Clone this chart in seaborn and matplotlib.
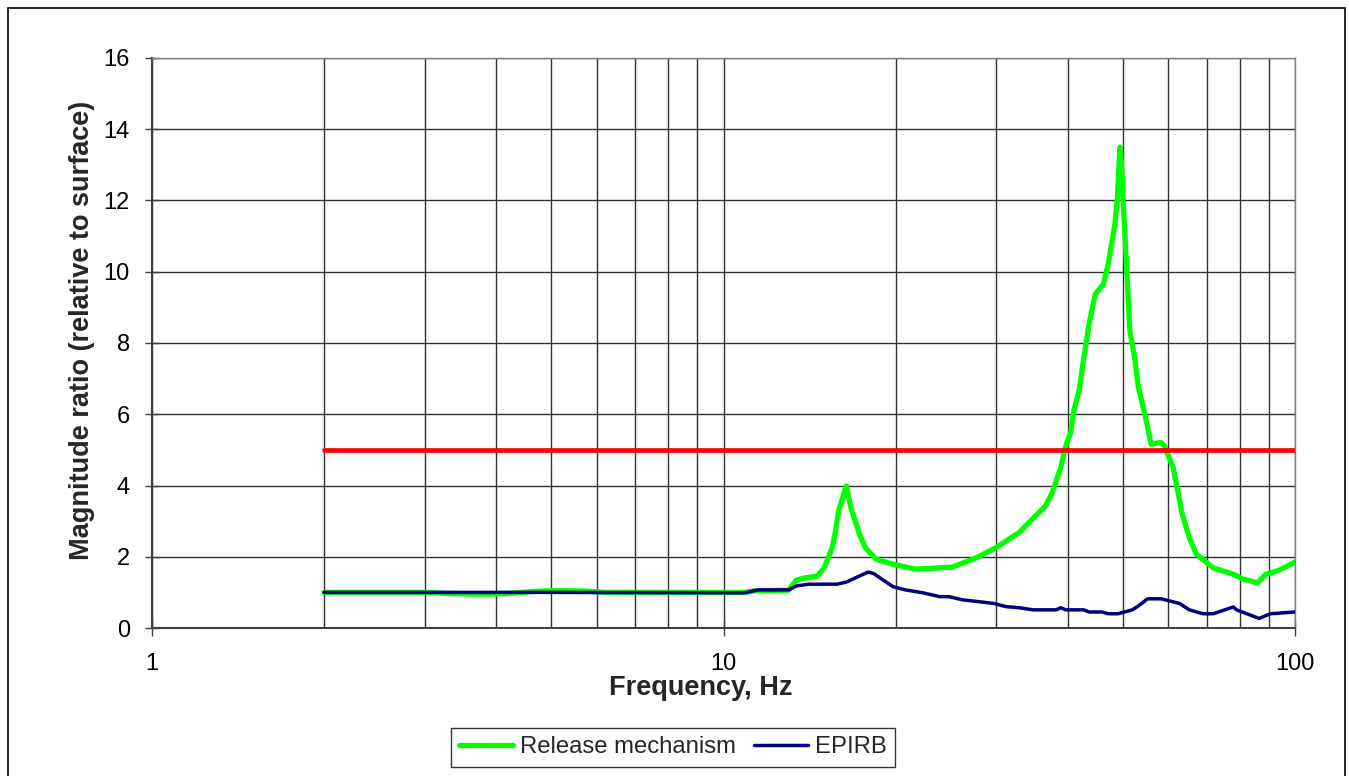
import numpy as np
import pandas as pd
import seaborn as sns
import matplotlib.pyplot as plt
from matplotlib.patches import Rectangle
from matplotlib.ticker import FixedLocator, NullFormatter

# Release mechanism (green)
rel_freq = [2.0, 3.0, 3.3, 3.7, 4.1, 4.6, 5.0, 5.7, 6.2, 7.0, 8.0, 9.0, 10.0, 10.9,
            11.4, 13.0, 13.4, 13.8, 14.6, 15.0, 15.5, 15.7, 15.9, 16.4, 16.7, 17.3,
            17.7, 18.5, 19.8, 21.7, 25.1, 27.6, 30.0, 32.9, 36.6, 37.6, 38.9, 39.7,
            40.5, 41.0, 41.9, 42.7, 43.6, 44.7, 46.2, 47.1, 48.4, 48.9, 49.2, 49.4,
            49.7, 50.0, 50.7, 51.4, 52.4, 53.2, 54.6, 56.0, 58.3, 59.1, 61.2, 63.5,
            65.3, 67.2, 71.9, 78.0, 81.2, 86.0, 88.9, 93.7, 100.0]
rel_mag = [1.0, 1.0, 0.97, 0.95, 0.96, 1.02, 1.05, 1.04, 1.0, 1.0, 1.0, 1.0, 1.0, 1.0,
           1.05, 1.06, 1.34, 1.40, 1.46, 1.69, 2.26, 2.72, 3.29, 3.99, 3.38, 2.63,
           2.26, 1.93, 1.79, 1.65, 1.71, 1.96, 2.26, 2.68, 3.43, 3.80, 4.50, 5.11,
           5.49, 6.10, 6.66, 7.59, 8.53, 9.37, 9.65, 10.22, 11.34, 12.09, 13.02, 13.49,
           13.02, 12.09, 10.22, 8.34, 7.59, 6.75, 6.00, 5.16, 5.21, 5.11, 4.50, 3.19,
           2.54, 2.07, 1.69, 1.51, 1.37, 1.27, 1.51, 1.62, 1.85]

# EPIRB (navy)
epirb_freq = [2.0, 5.0, 10.9, 11.5, 13.0, 13.4, 14.1, 15.8, 16.4, 17.9, 18.3, 19.8,
              20.8, 22.3, 23.9, 24.8, 26.2, 28.3, 29.7, 31.2, 32.9, 34.8, 38.2, 38.9,
              39.7, 42.7, 43.6, 45.9, 47.1, 49.0, 51.9, 53.2, 55.2, 58.3, 62.8, 65.3,
              69.0, 71.9, 78.0, 79.0, 86.5, 90.6, 100.0]
epirb_mag = [1.0, 1.0, 0.99, 1.07, 1.07, 1.18, 1.23, 1.23, 1.29, 1.57, 1.53, 1.16,
             1.07, 0.99, 0.88, 0.88, 0.79, 0.73, 0.69, 0.60, 0.57, 0.51, 0.51, 0.57,
             0.51, 0.51, 0.45, 0.45, 0.40, 0.40, 0.51, 0.62, 0.82, 0.82, 0.69, 0.51,
             0.40, 0.40, 0.59, 0.51, 0.27, 0.40, 0.45]

# limit line
limit_freq = [2.0, 100.0]
limit_mag = [5.0, 5.0]

rel = pd.DataFrame({"Frequency": rel_freq, "Magnitude": rel_mag})
epirb = pd.DataFrame({"Frequency": epirb_freq, "Magnitude": epirb_mag})
limit = pd.DataFrame({"Frequency": limit_freq, "Magnitude": limit_mag})

sns.set_style("white")
plt.rcParams["font.family"] = ["Liberation Sans", "DejaVu Sans"]

fig = plt.figure(figsize=(13.49, 7.76), dpi=100)
ax = fig.add_axes([0.1127, 0.1907, 0.8473, 0.7346])

sns.lineplot(data=rel, x="Frequency", y="Magnitude", ax=ax, color="#00FF00",
             lw=3.8, label="Release mechanism", zorder=3)
sns.lineplot(data=epirb, x="Frequency", y="Magnitude", ax=ax, color="#000080",
             lw=2.5, label="EPIRB", zorder=4)
sns.lineplot(data=limit, x="Frequency", y="Magnitude", ax=ax, color="#FF0000",
             lw=3.4, legend=False, zorder=5)

ax.set_xscale("log")
ax.set_xlim(1, 100)
ax.set_ylim(0, 16)
ax.set_yticks(range(0, 17, 2))
ax.set_xticks([1, 10, 100])
ax.set_xticklabels(["1", "10", "100"])
minors = [m * d for d in (1, 10) for m in range(2, 10)]
ax.xaxis.set_minor_locator(FixedLocator(minors))
ax.xaxis.set_minor_formatter(NullFormatter())

ax.grid(True, which="major", axis="both", color="#303030", lw=1)
ax.grid(True, which="minor", axis="x", color="#303030", lw=1)
ax.set_axisbelow(True)

for s in ("left", "bottom"):
    ax.spines[s].set_color("#404040")
    ax.spines[s].set_linewidth(1.5)
for s in ("top", "right"):
    ax.spines[s].set_color("#808080")
    ax.spines[s].set_linewidth(1)

ax.tick_params(axis="x", which="major", direction="inout", length=12, width=1,
               pad=12, labelsize=17, colors="#404040", labelcolor="black")
ax.tick_params(axis="x", which="minor", direction="in", length=5, width=1,
               colors="#404040")
ax.tick_params(axis="y", which="major", direction="inout", length=10, width=1,
               pad=11, labelsize=17, colors="#404040", labelcolor="black", left=True)
ax.tick_params(axis="x", bottom=True)

ax.set_xlabel("Frequency, Hz", fontsize=19.5, fontweight="bold", labelpad=0)
ax.set_ylabel("Magnitude ratio (relative to surface)", fontsize=19.5,
              fontweight="bold", labelpad=6)
ax.xaxis.label.set_x(0.48)
ax.yaxis.label.set_y(0.523)

ax.get_legend().remove()
handles, labels = ax.get_legend_handles_labels()
leg = fig.legend(handles, labels, loc="upper center", bbox_to_anchor=(0.499, 0.062),
                 ncol=2, frameon=True, fontsize=17.2, handlelength=2.25,
                 handletextpad=0.3, columnspacing=0.75, borderpad=0.35,
                 borderaxespad=0, fancybox=False)
leg.get_frame().set_edgecolor("black")
leg.get_frame().set_linewidth(1)

fig.patches.append(Rectangle((8 / 1349, -0.05), 1337 / 1349, 1.05 - 8 / 776,
                             transform=fig.transFigure, fill=False,
                             edgecolor="black", lw=1.2))

fig.savefig("out.png", dpi=100)
